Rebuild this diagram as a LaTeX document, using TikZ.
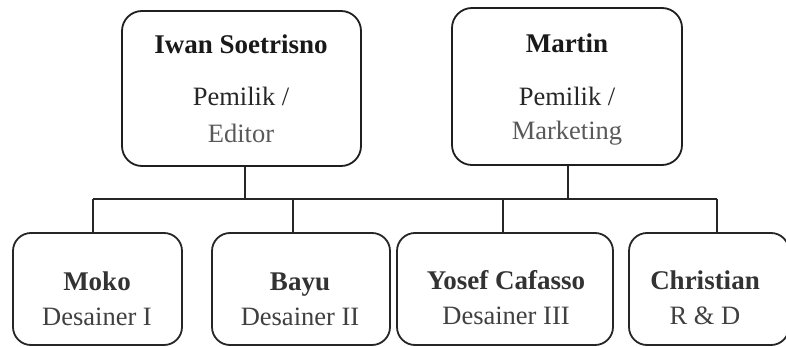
\documentclass[tikz,border=0pt]{standalone}
\usepackage{fontspec}
\setmainfont{Liberation Serif}
\begin{document}
\begin{tikzpicture}[x=1pt,y=-1pt,
  box/.style={draw=black!88,line width=1.8pt,rounded corners=20pt,inner sep=0pt},
  sbox/.style={draw=black!85,line width=1.8pt,rounded corners=18pt,inner sep=0pt},
  nm/.style={anchor=base,font=\fontsize{27}{30}\selectfont\bfseries,text=black!90,inner sep=0pt},
  rl/.style={anchor=base,font=\fontsize{26.5}{30}\selectfont,text=black!85,inner sep=0pt},
  rlg/.style={anchor=base,font=\fontsize{26.5}{30}\selectfont,text=black!65,inner sep=0pt},
  ln/.style={draw=black!85,line width=1.8pt}]
\useasboundingbox (0,0) rectangle (786,347);
\clip (0,0) rectangle (786,347);
\fill[white] (0,0) rectangle (786,347);
% top boxes
\node[box,minimum width=239pt,minimum height=155pt] (iwan) at (241.5,88.5) {};
\node[box,minimum width=230pt,minimum height=157pt] (martin) at (567,86.5) {};
\node[nm] (t1) at (241,54) {Iwan Soetrisno};
\node[rl] (t2) at (241,106) {Pemilik /};
\node[rlg] (t3) at (241,143) {Editor};
\node[nm] (t4) at (567,53) {Martin};
\node[rl] (t5) at (567,106) {Pemilik /};
\node[rlg] (t6) at (567,140) {Marketing};
% bottom boxes
\node[sbox,minimum width=169pt,minimum height=112pt] (moko) at (97.5,289) {};
\node[sbox,minimum width=178pt,minimum height=112pt] (bayu) at (301,289) {};
\node[sbox,minimum width=216pt,minimum height=112pt] (yosef) at (505,289) {};
\node[sbox,minimum width=160pt,minimum height=112pt] (chris) at (709,289) {};
\node[nm,text=black!80] (b1) at (97,290) {Moko};
\node[rl,text=black!75] (b2) at (97,325) {Desainer I};
\node[nm,text=black!80] (b3) at (300,290) {Bayu};
\node[rl,text=black!75] (b4) at (300,325) {Desainer II};
\node[nm,text=black!80] (b5) at (506,289) {Yosef Cafasso};
\node[rl,text=black!75] (b6) at (506,324) {Desainer III};
\node[nm,text=black!80] (b7) at (705,289) {Christian};
\node[rl,text=black!75] (b8) at (705,324) {R \& D};
% bus
\coordinate (ti) at (245,199);
\coordinate (tm) at (568,199);
\coordinate (d1) at (93,199);
\coordinate (d2) at (293,199);
\coordinate (d3) at (503,199);
\coordinate (d4) at (717,199);
\draw[ln] (ti |- iwan.south) -- (ti);
\draw[ln] (tm |- martin.south) -- (tm);
\draw[ln] (d1) -- (d4);
\draw[ln] (d1) -- (d1 |- moko.north);
\draw[ln] (d2) -- (d2 |- bayu.north);
\draw[ln] (d3) -- (d3 |- yosef.north);
\draw[ln] (d4) -- (d4 |- chris.north);
\end{tikzpicture}
\end{document}
